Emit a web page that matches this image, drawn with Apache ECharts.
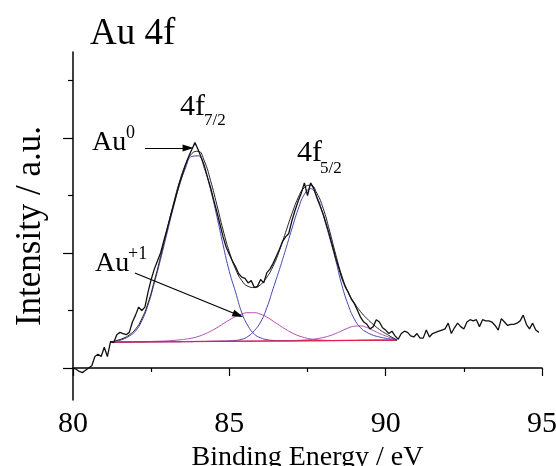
<!DOCTYPE html>
<html>
<head>
<meta charset="utf-8">
<script src="https://cdn.jsdelivr.net/npm/echarts@6/dist/echarts.min.js"></script>
<style>
  html, body { margin: 0; padding: 0; background: #fff; }
  #chart { width: 556px; height: 466px; }
</style>
</head>
<body>
<div id="chart"></div>
<script>
// raw spectrum, 80.0 eV upward in 0.1 eV steps
var rawStart = 80.0, rawStep = 0.1;
var rawCounts = [
  0.00, -0.01, -0.03, -0.04, -0.02, 0.00, 0.02, 0.10, 0.12, 0.10,
  0.18, 0.10, 0.23, 0.22, 0.29, 0.31, 0.30, 0.29, 0.31, 0.40,
  0.46, 0.53, 0.50, 0.53, 0.66, 0.77, 0.86, 0.93, 1.00, 1.10,
  1.20, 1.30, 1.40, 1.50, 1.60, 1.68, 1.77, 1.84, 1.90, 1.96,
  1.90, 1.83, 1.76, 1.66, 1.57, 1.46, 1.36, 1.25, 1.14, 1.05,
  0.99, 0.93, 0.88, 0.82, 0.79, 0.78, 0.74, 0.76, 0.70, 0.71,
  0.77, 0.74, 0.83, 0.86, 0.91, 0.97, 1.03, 1.10, 1.14, 1.17,
  1.28, 1.37, 1.45, 1.52, 1.61, 1.50, 1.61, 1.56, 1.48, 1.41,
  1.34, 1.25, 1.16, 1.06, 0.96, 0.87, 0.78, 0.71, 0.66, 0.60,
  0.56, 0.50, 0.44, 0.40, 0.38, 0.34, 0.36, 0.42, 0.40, 0.35,
  0.33, 0.30, 0.32, 0.28, 0.25, 0.30, 0.32, 0.31, 0.28, 0.27,
  0.30, 0.26, 0.26, 0.33, 0.27, 0.30, 0.31, 0.32, 0.33, 0.34,
  0.39, 0.30, 0.35, 0.39, 0.36, 0.34, 0.40, 0.42, 0.41, 0.42,
  0.36, 0.42, 0.41, 0.41, 0.40, 0.37, 0.33, 0.43, 0.40, 0.37,
  0.38, 0.38, 0.39, 0.41, 0.46, 0.38, 0.34, 0.39, 0.33, 0.31
];

// fitted curves share one energy grid
var fitEnergy = [
  81.2, 81.4, 81.6, 81.8, 82.0, 82.2, 82.4, 82.6, 82.8, 83.0,
  83.2, 83.4, 83.6, 83.8, 84.0, 84.2, 84.4, 84.6, 84.8, 85.0,
  85.2, 85.4, 85.6, 85.8, 86.0, 86.2, 86.4, 86.6, 86.8, 87.0,
  87.2, 87.4, 87.6, 87.8, 88.0, 88.2, 88.4, 88.6, 88.8, 89.0,
  89.2, 89.4, 89.6, 89.8, 90.0, 90.2, 90.36
];
var envelope = [
  0.225, 0.240, 0.258, 0.288, 0.338, 0.428, 0.565, 0.755, 0.968, 1.195,
  1.415, 1.615, 1.770, 1.865, 1.885, 1.800, 1.630, 1.420, 1.200, 1.010,
  0.860, 0.760, 0.710, 0.700, 0.725, 0.790, 0.885, 1.020, 1.180, 1.340,
  1.480, 1.570, 1.590, 1.520, 1.390, 1.200, 0.990, 0.800, 0.660, 0.565,
  0.490, 0.430, 0.380, 0.335, 0.300, 0.268, 0.243
];
var au0_72 = [
  0.225, 0.235, 0.250, 0.278, 0.322, 0.410, 0.548, 0.738, 0.945, 1.165,
  1.385, 1.585, 1.740, 1.840, 1.845, 1.735, 1.550, 1.320, 1.070, 0.840,
  0.660, 0.480, 0.365, 0.295, 0.262, 0.247, 0.240, 0.237, 0.236, 0.236,
  0.237, 0.237, 0.238, 0.238, 0.238, 0.239, 0.239, 0.240, 0.240, 0.240,
  0.241, 0.241, 0.242, 0.242, 0.242, 0.243, 0.243
];
var au0_52 = [
  0.225, 0.225, 0.226, 0.226, 0.227, 0.227, 0.228, 0.228, 0.228, 0.229,
  0.229, 0.229, 0.230, 0.230, 0.231, 0.231, 0.232, 0.233, 0.234, 0.236,
  0.240, 0.250, 0.275, 0.325, 0.400, 0.525, 0.690, 0.855, 1.030, 1.210,
  1.380, 1.510, 1.560, 1.490, 1.330, 1.140, 0.940, 0.720, 0.550, 0.425,
  0.350, 0.310, 0.285, 0.270, 0.259, 0.250, 0.243
];
var au1_72 = [
  0.225, 0.225, 0.226, 0.227, 0.228, 0.229, 0.230, 0.232, 0.234, 0.236,
  0.240, 0.245, 0.251, 0.260, 0.274, 0.294, 0.320, 0.350, 0.385, 0.418,
  0.448, 0.470, 0.481, 0.481, 0.468, 0.443, 0.408, 0.372, 0.337, 0.306,
  0.282, 0.265, 0.253, 0.246, 0.242, 0.240, 0.239, 0.239, 0.240, 0.240,
  0.241, 0.241, 0.242, 0.242, 0.242, 0.243, 0.243
];
var au1_52 = [
  0.225, 0.225, 0.226, 0.226, 0.227, 0.227, 0.228, 0.228, 0.228, 0.229,
  0.229, 0.229, 0.230, 0.230, 0.231, 0.231, 0.232, 0.232, 0.232, 0.233,
  0.233, 0.233, 0.234, 0.234, 0.234, 0.235, 0.236, 0.237, 0.238, 0.239,
  0.241, 0.244, 0.248, 0.255, 0.265, 0.280, 0.300, 0.324, 0.348, 0.364,
  0.366, 0.352, 0.327, 0.301, 0.279, 0.260, 0.246
];
var baseEnergy = [81.2, 90.36];
var baseValue = [0.225, 0.243];

var majorTicks = [0, 1, 2];
var minorTicks = [0.5, 1.5, 2.5];

function pairs(xs, ys) {
  return ys.map(function (y, i) { return [xs[i], y]; });
}
var rawData = rawCounts.map(function (v, i) {
  return [+(rawStart + i * rawStep).toFixed(1), v];
});

var chart = echarts.init(document.getElementById('chart'));
var serif = '"Liberation Serif", "Times New Roman", serif';
var axisColor = '#000';

var option = {
  animation: false,
  backgroundColor: '#fff',
  grid: { left: 73, right: 14, top: 52, bottom: 66, outerBoundsMode: 'none', containLabel: false },
  xAxis: {
    type: 'value', min: 80, max: 95, interval: 5,
    name: 'Binding Energy / eV', nameLocation: 'middle', nameGap: 43,
    nameTextStyle: { fontFamily: serif, fontSize: 28, color: '#000' },
    axisLine: { lineStyle: { color: axisColor, width: 1.5 } },
    axisTick: { length: 8, lineStyle: { color: axisColor, width: 1.2 } },
    minorTick: { show: true, splitNumber: 2, length: 4, lineStyle: { color: axisColor, width: 1.2 } },
    axisLabel: { fontFamily: serif, fontSize: 30, color: '#000', margin: 9 },
    splitLine: { show: false }
  },
  yAxis: [{
    type: 'value', min: -0.278, max: 2.748, position: 'left',
    name: 'Intensity / a.u.', nameLocation: 'middle', nameGap: 25,
    nameTextStyle: { fontFamily: serif, fontSize: 35, color: '#000' },
    axisLine: { show: true, lineStyle: { color: axisColor, width: 1.5 } },
    axisTick: { show: true, length: 10, customValues: majorTicks, lineStyle: { color: axisColor, width: 1.2 } },
    axisLabel: { show: false, customValues: majorTicks },
    splitLine: { show: false }
  }, {
    type: 'value', min: -0.278, max: 2.748, position: 'left',
    axisLine: { show: false },
    axisTick: { show: true, length: 5, customValues: minorTicks, lineStyle: { color: axisColor, width: 1.2 } },
    axisLabel: { show: false, customValues: minorTicks },
    splitLine: { show: false }
  }],
  series: [
    {
      name: 'baseline', type: 'line', data: pairs(baseEnergy, baseValue),
      showSymbol: false, lineStyle: { color: '#e3204f', width: 1.2 }, z: 3
    },
    {
      name: 'Au+1 4f7/2', type: 'line', smooth: true, data: pairs(fitEnergy, au1_72),
      showSymbol: false, lineStyle: { color: '#b04cb4', width: 1 }, z: 2
    },
    {
      name: 'Au+1 4f5/2', type: 'line', smooth: true, data: pairs(fitEnergy, au1_52),
      showSymbol: false, lineStyle: { color: '#b04cb4', width: 1 }, z: 2
    },
    {
      name: 'Au0 4f7/2', type: 'line', smooth: true, data: pairs(fitEnergy, au0_72),
      showSymbol: false, lineStyle: { color: '#4446b4', width: 1 }, z: 2
    },
    {
      name: 'Au0 4f5/2', type: 'line', smooth: true, data: pairs(fitEnergy, au0_52),
      showSymbol: false, lineStyle: { color: '#4446b4', width: 1 }, z: 2
    },
    {
      name: 'envelope', type: 'line', smooth: true, data: pairs(fitEnergy, envelope),
      showSymbol: false, lineStyle: { color: '#222', width: 1 }, z: 4
    },
    {
      name: 'raw', type: 'line', data: rawData,
      showSymbol: false, lineStyle: { color: '#111', width: 1.3 }, z: 5,
      markLine: {
        silent: true, symbol: ['none', 'triangle'], symbolSize: [7, 11],
        label: { show: false },
        lineStyle: { color: '#000', width: 1.2, type: 'solid' },
        data: [
          [{ coord: [82.30, 1.913] }, { coord: [83.68, 1.913] }],
          [{ coord: [81.98, 0.826] }, { coord: [85.28, 0.461] }]
        ]
      }
    }
  ],
  graphic: [
    { type: 'text', x: 90, y: 16, style: { text: 'Au 4f', font: '37px ' + serif, fill: '#000' } },
    { type: 'text', x: 92, y: 129, style: { text: 'Au', font: '28px ' + serif, fill: '#000' } },
    { type: 'text', x: 126, y: 124, style: { text: '0', font: '18px ' + serif, fill: '#000' } },
    { type: 'text', x: 180, y: 92, style: { text: '4f', font: '30px ' + serif, fill: '#000' } },
    { type: 'text', x: 204, y: 112, style: { text: '7/2', font: '17px ' + serif, fill: '#000' } },
    { type: 'text', x: 297, y: 138, style: { text: '4f', font: '30px ' + serif, fill: '#000' } },
    { type: 'text', x: 320, y: 160, style: { text: '5/2', font: '17px ' + serif, fill: '#000' } },
    { type: 'text', x: 95, y: 250, style: { text: 'Au', font: '28px ' + serif, fill: '#000' } },
    { type: 'text', x: 128, y: 245, style: { text: '+1', font: '18px ' + serif, fill: '#000' } }
  ]
};

chart.setOption(option);
</script>
</body>
</html>
